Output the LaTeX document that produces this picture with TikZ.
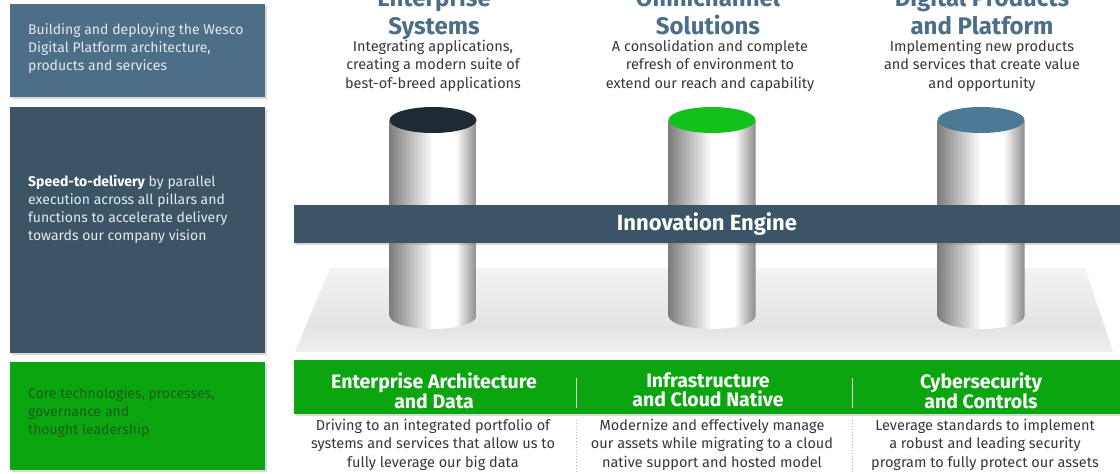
\documentclass[tikz,border=0pt]{standalone}
\usepackage{fontspec}
\setmainfont{Fira Sans}
\usepackage{xcolor}
\definecolor{wescoblue}{RGB}{76, 111, 135}
\definecolor{wescoslate}{RGB}{60, 85, 102}
\definecolor{wescogreen}{RGB}{11, 165, 16}
\definecolor{capgreen}{RGB}{18, 192, 26}
\definecolor{capdark}{RGB}{31, 42, 51}
\definecolor{capblue}{RGB}{76, 122, 150}
\definecolor{leafdark}{RGB}{26, 94, 28}
\definecolor{bodygray}{RGB}{55, 55, 55}
\definecolor{paletext}{RGB}{226, 234, 240}
\definecolor{pillarleft}{RGB}{125, 125, 125}
\definecolor{pillarright}{RGB}{140, 140, 140}
\usepackage{tikz}
\usetikzlibrary{shadows}

% round pillars: dark left edge, bright band right of centre
\pgfdeclarehorizontalshading{pillarshade}{100bp}{color(0bp)=(pillarleft); color(25bp)=(pillarleft); color(50bp)=(white); color(63bp)=(white); color(75bp)=(pillarright); color(100bp)=(pillarright)}
% base plate under the pillars
\pgfdeclareverticalshading{plateshade}{100bp}{color(0bp)=(gray!12); color(25bp)=(gray!12); color(40bp)=(gray!22); color(75bp)=(gray!9); color(100bp)=(gray!9)}

\begin{document}
\begin{tikzpicture}[x=1pt, y=-1pt,
    boxtext/.style={anchor=north west, inner sep=0pt, align=left, font=\fontsize{14}{18}\selectfont},
    pillartitle/.style={anchor=north, inner sep=0pt, align=center, text=wescoblue, font=\fontsize{24}{28}\selectfont\bfseries},
    blurb/.style={anchor=north, inner sep=0pt, align=center, text=bodygray, font=\fontsize{14.5}{18.5}\selectfont},
    pillarhead/.style={anchor=north, inner sep=0pt, align=center, text=white, font=\fontsize{19.5}{18.5}\selectfont\bfseries},
    softshadow/.style={drop shadow={shadow xshift=2pt, shadow yshift=-2pt, opacity=0.3}}]
    \fill[white] (0,0) rectangle (1120,474);
    \useasboundingbox (0,0) rectangle (1120,474);

    % left column
    \fill[wescoblue, softshadow] (10,4) rectangle (265,97);
    \node[boxtext, text=paletext] (vision) at (28,23) {Building and deploying the Wesco\\Digital Platform architecture,\\products and services};
    \fill[wescoslate, softshadow] (10,107) rectangle (265,353);
    \node[boxtext, text=paletext] (speed) at (28,175) {\textbf{\color{white}Speed-to-delivery} by parallel\\execution across all pillars and\\functions to accelerate delivery\\towards our company vision};
    \fill[wescogreen, softshadow] (10,362) rectangle (265,470);
    \node[boxtext, text=leafdark] (core) at (28,387) {Core technologies, processes,\\governance and\\thought leadership};

    % base plate
    \shade[shading=plateshade] (330,268) -- (1085,268) -- (1113,352) -- (295,352) -- cycle;

    % pillars
    \begin{scope}[shift={(433,0)}]
        \shade[shading=pillarshade] (-43.5,120) -- (-43.5,316) arc[start angle=180, end angle=0, x radius=43.5, y radius=13] -- (43.5,120) -- cycle;
        \fill[capdark] (0,120) ellipse[x radius=43.5, y radius=13];
    \end{scope}
    \begin{scope}[shift={(712,0)}]
        \shade[shading=pillarshade] (-43.5,120) -- (-43.5,316) arc[start angle=180, end angle=0, x radius=43.5, y radius=13] -- (43.5,120) -- cycle;
        \fill[capgreen] (0,120) ellipse[x radius=43.5, y radius=13];
    \end{scope}
    \begin{scope}[shift={(981,0)}]
        \shade[shading=pillarshade] (-43.5,120) -- (-43.5,316) arc[start angle=180, end angle=0, x radius=43.5, y radius=13] -- (43.5,120) -- cycle;
        \fill[capblue] (0,120) ellipse[x radius=43.5, y radius=13];
    \end{scope}

    % engine bar across the pillars
    \fill[wescoslate, softshadow] (294,205) rectangle (1120,243);
    \node[text=white, font=\fontsize{22}{22}\selectfont\bfseries] (engine) at (707,224) {Innovation Engine};

    % pillar titles
    \node[pillartitle] (enterprise) at (434,-13) {Enterprise\\Systems};
    \node[pillartitle] (omni) at (708,-13) {Omnichannel\\Solutions};
    \node[pillartitle] (digital) at (982,-13) {Digital Products\\and Platform};
    \node[blurb] (enterpriseblurb) at (433,39.5) {Integrating applications,\\creating a modern suite of\\best-of-breed applications};
    \node[blurb] (omniblurb) at (710,39.5) {A consolidation and complete\\refresh of environment to\\extend our reach and capability};
    \node[blurb] (digitalblurb) at (982,39.5) {Implementing new products\\and services that create value\\and opportunity};

    % green foundation bar
    \fill[wescogreen, softshadow] (294,360) rectangle (1120,414);
    \node[pillarhead] (architecture) at (434,372.5) {Enterprise Architecture\\and Data};
    \node[pillarhead] (cloud) at (708,372.5) {Infrastructure\\and Cloud Native};
    \node[pillarhead] (cyber) at (981,372.5) {Cybersecurity\\and Controls};
    \draw[white!80!wescogreen, line width=1pt] (576,378) -- (576,408);
    \draw[white!80!wescogreen, line width=1pt] (852,378) -- (852,408);

    \node[blurb] (architectureblurb) at (433,418.5) {Driving to an integrated portfolio of\\systems and services that allow us to\\fully leverage our big data};
    \node[blurb] (cloudblurb) at (712,418.5) {Modernize and effectively manage\\our assets while migrating to a cloud\\native support and hosted model};
    \node[blurb] (cyberblurb) at (985,418.5) {Leverage standards to implement\\a robust and leading security\\program to fully protect our assets};
    \draw[gray!60, dotted, line width=1pt] (576,420) -- (576,474);
    \draw[gray!60, dotted, line width=1pt] (852,420) -- (852,474);
\end{tikzpicture}
\end{document}
